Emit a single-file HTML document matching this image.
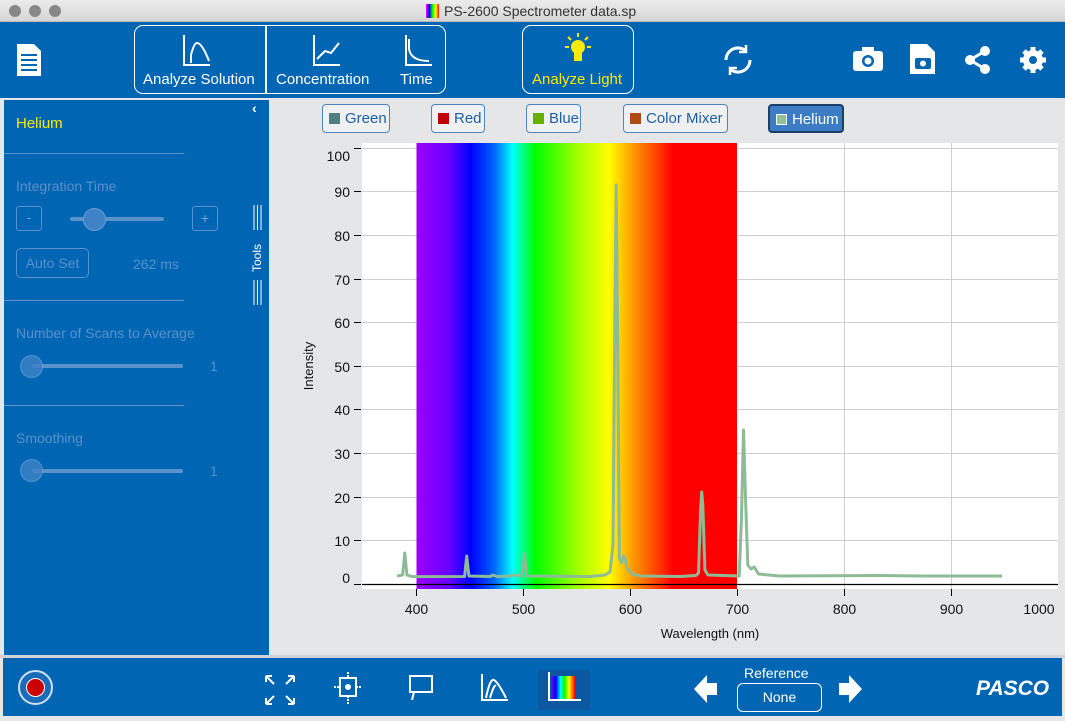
<!DOCTYPE html>
<html><head><meta charset="utf-8"><style>
*{margin:0;padding:0;box-sizing:border-box}
body{width:1065px;height:721px;background:#e5e6e8;font-family:"Liberation Sans",sans-serif;position:relative;overflow:hidden}
.abs{position:absolute}
.tb{background:#0066b3}
.w{color:#fff}
.lb{position:absolute;height:29px;top:104px;border:1.5px solid #4f86b8;border-radius:4px;background:#eef0f2;color:#1d5fa3;font-size:15px;line-height:27px;padding-left:22px}
.lb i{position:absolute;left:6px;top:8px;width:11px;height:11px}
.pl{color:#5b8fc9;font-size:14px}
</style></head><body>
<div class="abs" style="left:0;top:0;width:1065px;height:22px;background:linear-gradient(#ececec,#d6d6d6);border-bottom:1px solid #b8b8b8"></div>
<div class="abs" style="left:9px;top:5px;width:12px;height:12px;border-radius:50%;background:#888"></div>
<div class="abs" style="left:29px;top:5px;width:12px;height:12px;border-radius:50%;background:#888"></div>
<div class="abs" style="left:49px;top:5px;width:12px;height:12px;border-radius:50%;background:#888"></div>
<div class="abs" style="left:426px;top:4px;width:13px;height:14px;background:linear-gradient(90deg,#f0f,#00f,#0f0,#ff0,#f00)"></div>
<div class="abs" style="left:444px;top:3px;font-size:14px;color:#333">PS-2600 Spectrometer data.sp</div>
<div class="abs tb" style="left:0;top:22px;width:1065px;height:76px"></div>
<svg class="abs" style="left:15px;top:42px" width="28" height="36"><path d="M2 2h17l7 7v25H2z" fill="#fff"/><g stroke="#0066b3" stroke-width="2"><line x1="6" y1="13" x2="22" y2="13"/><line x1="6" y1="18" x2="22" y2="18"/><line x1="6" y1="23" x2="22" y2="23"/><line x1="6" y1="28" x2="22" y2="28"/></g></svg>
<div class="abs" style="left:134px;top:25px;width:312px;height:69px;border:1.5px solid #fff;border-radius:9px"></div>
<div class="abs" style="left:265px;top:25px;width:1.5px;height:69px;background:#fff"></div>
<svg class="abs" style="left:134px;top:25px" width="312" height="45" fill="none" stroke="#fff" stroke-width="2"><path d="M50 10v30h26M57 38v-8q3-12 6-12q5 0 12 18"/><path d="M180 10v30h26M183 34l8-8 6 2 8-10"/><path d="M272 10v30h26M275 14v10q2 12 20 12"/></svg>
<div class="abs w" style="left:143px;top:71px;font-size:15px">Analyze Solution</div>
<div class="abs w" style="left:276px;top:71px;font-size:15px">Concentration</div>
<div class="abs w" style="left:400px;top:71px;font-size:15px">Time</div>
<div class="abs" style="left:522px;top:25px;width:112px;height:69px;border:1.5px solid #fff;border-radius:9px"></div>
<svg class="abs" style="left:560px;top:32px" width="36" height="34"><circle cx="18" cy="15" r="7" fill="#ffeb00"/><rect x="14" y="21" width="8" height="8" fill="#ffeb00"/><g stroke="#ffeb00" stroke-width="2"><line x1="18" y1="1" x2="18" y2="5"/><line x1="5" y1="15" x2="9" y2="15"/><line x1="27" y1="15" x2="31" y2="15"/><line x1="8" y1="5" x2="11" y2="8"/><line x1="28" y1="5" x2="25" y2="8"/></g></svg>
<div class="abs" style="left:532px;top:71px;font-size:15px;color:#ffeb00">Analyze Light</div>
<svg class="abs" style="left:718px;top:40px" width="40" height="40" fill="none" stroke="#fff" stroke-width="3"><path d="M8 20a12 12 0 0 1 20-9M32 20a12 12 0 0 1-20 9"/><path d="M28 5v7h-7M12 35v-7h7" stroke-width="2.5"/></svg>
<svg class="abs" style="left:852px;top:45px" width="32" height="28"><rect x="1" y="6" width="30" height="20" rx="3" fill="#fff"/><rect x="10" y="2" width="12" height="6" fill="#fff"/><circle cx="16" cy="16" r="6" fill="#0066b3"/><circle cx="16" cy="16" r="3.5" fill="#fff"/></svg>
<svg class="abs" style="left:908px;top:42px" width="30" height="34"><path d="M2 2h17l8 8v22H2z" fill="#fff"/><rect x="7" y="16" width="16" height="11" rx="2" fill="#0066b3"/><circle cx="15" cy="21.5" r="3" fill="#fff"/></svg>
<svg class="abs" style="left:964px;top:45px" width="28" height="30"><g stroke="#fff" stroke-width="3"><line x1="6" y1="15" x2="21" y2="6"/><line x1="6" y1="15" x2="21" y2="24"/></g><circle cx="6" cy="15" r="5" fill="#fff"/><circle cx="21" cy="6" r="5" fill="#fff"/><circle cx="21" cy="24" r="5" fill="#fff"/></svg>
<svg class="abs" style="left:1018px;top:45px" width="30" height="30"><g fill="#fff"><circle cx="15" cy="15" r="10"/><g stroke="#fff" stroke-width="5"><line x1="15" y1="2" x2="15" y2="28"/><line x1="2" y1="15" x2="28" y2="15"/><line x1="6" y1="6" x2="24" y2="24"/><line x1="24" y1="6" x2="6" y2="24"/></g></g><circle cx="15" cy="15" r="4" fill="#0066b3"/></svg>
<div class="abs tb" style="left:4px;top:100px;width:265px;height:555px"></div>
<div class="abs" style="left:16px;top:115px;font-size:15px;color:#ffeb00">Helium</div>
<div class="abs w" style="left:252px;top:100px;font-size:14px;font-weight:bold">‹</div>
<div class="abs" style="left:4px;top:153px;width:180px;height:1px;background:#5a93cc"></div>
<div class="abs pl" style="left:16px;top:178px">Integration Time</div>
<div class="abs" style="left:16px;top:206px;width:26px;height:25px;border:1px solid #5a93cc;border-radius:3px;color:#7aa8d8;text-align:center;font-size:13px;line-height:22px">-</div>
<div class="abs" style="left:192px;top:206px;width:26px;height:25px;border:1px solid #5a93cc;border-radius:3px;color:#7aa8d8;text-align:center;font-size:14px;line-height:22px">+</div>
<div class="abs" style="left:70px;top:217px;width:94px;height:4px;border-radius:2px;background:#5a93cc"></div>
<div class="abs" style="left:83px;top:208px;width:23px;height:23px;border-radius:50%;background:#3f82c6;border:1px solid #6a9fd4"></div>
<div class="abs pl" style="left:16px;top:248px;width:73px;height:30px;border:1px solid #5a93cc;border-radius:5px;text-align:center;line-height:28px">Auto Set</div>
<div class="abs pl" style="left:133px;top:256px">262 ms</div>
<div class="abs" style="left:4px;top:300px;width:180px;height:1px;background:#5a93cc"></div>
<div class="abs pl" style="left:16px;top:325px">Number of Scans to Average</div>
<div class="abs" style="left:32px;top:364px;width:151px;height:4px;border-radius:2px;background:#5a93cc"></div>
<div class="abs" style="left:20px;top:355px;width:23px;height:23px;border-radius:50%;background:#3f82c6;border:1px solid #6a9fd4;opacity:.8"></div>
<div class="abs pl" style="left:210px;top:358px">1</div>
<div class="abs" style="left:4px;top:405px;width:180px;height:1px;background:#5a93cc"></div>
<div class="abs pl" style="left:16px;top:430px">Smoothing</div>
<div class="abs" style="left:32px;top:469px;width:151px;height:4px;border-radius:2px;background:#5a93cc"></div>
<div class="abs" style="left:20px;top:459px;width:23px;height:23px;border-radius:50%;background:#3f82c6;border:1px solid #6a9fd4;opacity:.8"></div>
<div class="abs pl" style="left:210px;top:463px">1</div>
<svg class="abs" style="left:252px;top:205px" width="12" height="102" fill="none" stroke="#fff" stroke-width="1"><path d="M2 0v25M5.5 0v25M9 0v25M2 75v25M5.5 75v25M9 75v25"/></svg>
<div class="abs w" style="left:250px;top:272px;font-size:12px;transform:rotate(-90deg);transform-origin:0 0">Tools</div>
<div class="lb" style="left:322px;width:68px"><i style="background:#507f80"></i>Green</div>
<div class="lb" style="left:431px;width:54px"><i style="background:#c00000"></i>Red</div>
<div class="lb" style="left:526px;width:55px"><i style="background:#66b000"></i>Blue</div>
<div class="lb" style="left:623px;width:105px"><i style="background:#b04a10"></i>Color Mixer</div>
<div class="lb" style="left:768px;width:76px;background:#3c7cc4;color:#fff;border:2px solid #1c3d66"><i style="background:#8fc09a;border:1px solid #fff"></i>Helium</div>
<svg class="abs" style="left:0;top:0" width="1065" height="721">
<defs><linearGradient id="sp" x1="0" x2="1"><stop offset="0" stop-color="#9a00ff"/><stop offset=".1" stop-color="#6a00ff"/><stop offset=".17" stop-color="#0000ff"/><stop offset=".24" stop-color="#0060ff"/><stop offset=".3" stop-color="#00ffff"/><stop offset=".33" stop-color="#00ff90"/><stop offset=".37" stop-color="#00ff00"/><stop offset=".5" stop-color="#a0ff00"/><stop offset=".6" stop-color="#ffff00"/><stop offset=".67" stop-color="#ffa000"/><stop offset=".75" stop-color="#ff4000"/><stop offset=".8" stop-color="#ff0000"/><stop offset="1" stop-color="#ff0000"/></linearGradient></defs>
<rect x="362" y="143" width="696" height="446" fill="#fff"/>
<g stroke="#cfcfcf" stroke-width="1">
<line x1="362" y1="148.5" x2="1058" y2="148.5"/><line x1="362" y1="191.5" x2="1058" y2="191.5"/><line x1="362" y1="235.5" x2="1058" y2="235.5"/><line x1="362" y1="279.5" x2="1058" y2="279.5"/><line x1="362" y1="322.5" x2="1058" y2="322.5"/><line x1="362" y1="366.5" x2="1058" y2="366.5"/><line x1="362" y1="409.5" x2="1058" y2="409.5"/><line x1="362" y1="453.5" x2="1058" y2="453.5"/><line x1="362" y1="497.5" x2="1058" y2="497.5"/><line x1="362" y1="540.5" x2="1058" y2="540.5"/>
<line x1="844.5" y1="143" x2="844.5" y2="589"/><line x1="951.5" y1="143" x2="951.5" y2="589"/>
</g>
<rect x="416.5" y="143" width="320.5" height="446" fill="url(#sp)"/>
<line x1="362" y1="584.5" x2="1058" y2="584.5" stroke="#000" stroke-width="1.2"/>
<g stroke="#000" stroke-width="1"><line x1="354" y1="148.5" x2="361" y2="148.5"/><line x1="354" y1="191.5" x2="361" y2="191.5"/><line x1="354" y1="235.5" x2="361" y2="235.5"/><line x1="354" y1="279.5" x2="361" y2="279.5"/><line x1="354" y1="322.5" x2="361" y2="322.5"/><line x1="354" y1="366.5" x2="361" y2="366.5"/><line x1="354" y1="409.5" x2="361" y2="409.5"/><line x1="354" y1="453.5" x2="361" y2="453.5"/><line x1="354" y1="497.5" x2="361" y2="497.5"/><line x1="354" y1="540.5" x2="361" y2="540.5"/><line x1="354" y1="584.5" x2="361" y2="584.5"/>
<line x1="416.5" y1="589" x2="416.5" y2="596"/><line x1="523.5" y1="589" x2="523.5" y2="596"/><line x1="630.5" y1="589" x2="630.5" y2="596"/><line x1="737.5" y1="589" x2="737.5" y2="596"/><line x1="844.5" y1="589" x2="844.5" y2="596"/><line x1="951.5" y1="589" x2="951.5" y2="596"/></g>
<g font-family="Liberation Sans" font-size="14" fill="#111" text-anchor="end"><text x="350" y="161">100</text><text x="350" y="197">90</text><text x="350" y="241">80</text><text x="350" y="285">70</text><text x="350" y="328">60</text><text x="350" y="372">50</text><text x="350" y="415">40</text><text x="350" y="459">30</text><text x="350" y="503">20</text><text x="350" y="546">10</text><text x="350" y="583">0</text></g>
<g font-family="Liberation Sans" font-size="14" fill="#111" text-anchor="middle"><text x="416.5" y="614">400</text><text x="523.5" y="614">500</text><text x="630.5" y="614">600</text><text x="737.5" y="614">700</text><text x="844.5" y="614">800</text><text x="951.5" y="614">900</text><text x="1039" y="614">1000</text><text x="710" y="638" font-size="13">Wavelength (nm)</text></g>
<text x="313" y="366" font-family="Liberation Sans" font-size="13" fill="#111" text-anchor="middle" transform="rotate(-90 313 366)">Intensity</text>
<path fill="none" stroke="#8dbb95" stroke-width="3" stroke-linejoin="round" d="M397 576L402.6 575L404.8 553L406.9 575L412 576.6L464.6 576.5L466.7 556L468.9 576L490 576.5L493 575L497 576.5L510 576L513 575L522.2 576L524.4 553.5L526.6 576L560 576.3L590 576.5L605 575L610 572L613 545L615 300L616.2 185L617.3 300L619.4 558L621.6 563L623.7 556L624.8 558L626.9 568L632.3 574L640.8 576L680 576.5L696 575.5L698.5 573L700.6 510L701.7 492L702.8 505L704.9 570L708 575L739.2 576L741.4 520L743.5 430L745.6 500L747.8 565L751 569L754.2 567L758.5 574L779.6 576L880 575.5L920 576L1002 576"/>
</svg>
<div class="abs" style="left:0;top:655px;width:1065px;height:3px;background:#cfd3d8"></div>
<div class="abs tb" style="left:3px;top:658px;width:1059px;height:58px"></div>
<div class="abs" style="left:18px;top:670px;width:35px;height:35px;border-radius:50%;border:2px solid #cfe0f0;background:#1a6cb8"></div>
<div class="abs" style="left:26px;top:678px;width:19px;height:19px;border-radius:50%;background:#cc0000;border:1px solid #fff"></div>
<svg class="abs" style="left:260px;top:670px" width="340" height="40" fill="none" stroke="#fff" stroke-width="2">
<path d="M6 6l8 8M6 6v6M6 6h6M34 6l-8 8M34 6v6M34 6h-6M6 34l8-8M6 34v-6M6 34h6M34 34l-8-8M34 34v-6M34 34h-6"/>
<rect x="80" y="8" width="16" height="18"/><circle cx="88" cy="17" r="2" fill="#fff"/><path d="M88 2v6M88 26v8M74 17h6M96 17h6" stroke-dasharray="2 1"/>
<rect x="150" y="6" width="22" height="16"/><path d="M154 22l-2 8"/>
<path d="M222 4v26h26M226 28q4-20 8-18t12 18M230 28q4-14 6-12"/>
<rect x="278" y="-10" width="52" height="56" fill="#0b57a0" stroke="none"/>
</svg>
<svg class="abs" style="left:545px;top:670px" width="40" height="36"><defs><linearGradient id="g2" x1="0" x2="1"><stop offset="0" stop-color="#8000ff"/><stop offset=".2" stop-color="#00f"/><stop offset=".4" stop-color="#0ff"/><stop offset=".55" stop-color="#0f0"/><stop offset=".75" stop-color="#ff0"/><stop offset="1" stop-color="#f00"/></linearGradient></defs><rect x="6" y="6" width="24" height="24" fill="url(#g2)"/><path d="M4 2v28h32" fill="none" stroke="#fff" stroke-width="2"/></svg>
<svg class="abs" style="left:692px;top:672px" width="180" height="34" fill="#fff"><path d="M2 17l13-14v8h10v12H15v8z"/><path d="M170 17l-13-14v8h-10v12h10v8z"/></svg>
<div class="abs w" style="left:744px;top:665px;font-size:14px">Reference</div>
<div class="abs w" style="left:737px;top:683px;width:85px;height:29px;border:1.5px solid #fff;border-radius:6px;text-align:center;line-height:27px;font-size:14px">None</div>
<div class="abs w" style="left:976px;top:677px;font-size:21px;font-weight:bold;font-style:italic">PASCO</div>
</body></html>
